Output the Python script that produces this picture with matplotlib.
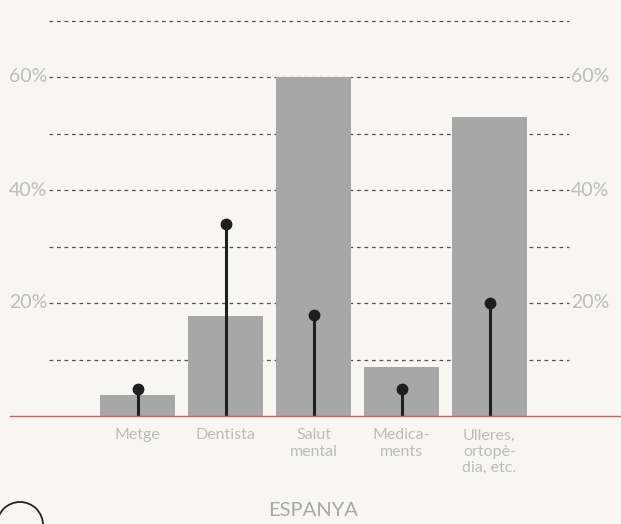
import matplotlib.pyplot as plt
from matplotlib.patches import Circle

categories = ["Metge", "Dentista", "Salut\nmental", "Medica-\nments", "Ulleres,\nortopè-\ndia, etc."]
bar_values = [3.7, 17.7, 60.0, 8.7, 52.9]
dot_values = [4.8, 34.0, 17.9, 4.8, 20.0]
grid_values = [10, 20, 30, 40, 50, 60, 70]
label_values = [20, 40, 60]

BG = "#f7f6f2"
BAR = "#a6a7a6"
TXT = "#bcbcbc"


def main():
    plt.rcParams["font.family"] = ["Lato", "DejaVu Sans"]
    fig = plt.figure(figsize=(6.21, 5.24), dpi=100, facecolor=BG)
    ax = fig.add_axes([0, 108 / 524, 1, 416 / 524])
    ax.set_facecolor(BG)

    # pixel mapping: category i centred at 137.5 + 88*i px
    x0 = (0 - 137.5) / 88
    x1 = (621 - 137.5) / 88
    ax.set_xlim(x0, x1)
    ax.set_ylim(0, 416 / 5.65)

    xs = list(range(len(categories)))

    # grid lines
    gl, gr = (49 - 137.5) / 88, (569 - 137.5) / 88
    for g in grid_values:
        ax.plot([gl, gr], [g, g], color="#555555", lw=0.9,
                linestyle=(0, (3, 3)), zorder=1)

    ax.bar(xs, bar_values, width=75 / 88, color=BAR, zorder=2)

    # lollipops
    ax.vlines(xs, 0, dot_values, color="#1f1f1f", lw=2.2, zorder=3)
    ax.plot(xs, dot_values, "o", color="#1f1f1f", ms=7.5, zorder=4)

    # baseline
    ax.plot([(10 - 137.5) / 88, x1], [0, 0], color="#c9615c", lw=1.0,
            zorder=5, clip_on=False)

    for v in label_values:
        ax.text(gl - 0.02, v, f"{v}%", ha="right", va="center",
                fontsize=14, color=TXT)
        ax.text(gr + 0.02, v, f"{v}%", ha="left", va="center",
                fontsize=14, color=TXT)

    for x, c in zip(xs, categories):
        ax.text(x, -2.2, c, ha="center", va="top", fontsize=11.5,
                color=TXT, linespacing=1.2)

    ax.axis("off")

    fig.text(313 / 621, 1 - 511 / 524, "ESPANYA", ha="center", va="center",
             fontsize=14.5, color="#a8a8a8")

    circ = Circle((20, -1), 23, transform=None, fill=False,
                  edgecolor="#222222", lw=1.3)
    fig.patches.append(circ)

    fig.savefig("out.png", dpi=100, facecolor=BG)


if __name__ == "__main__":
    main()
